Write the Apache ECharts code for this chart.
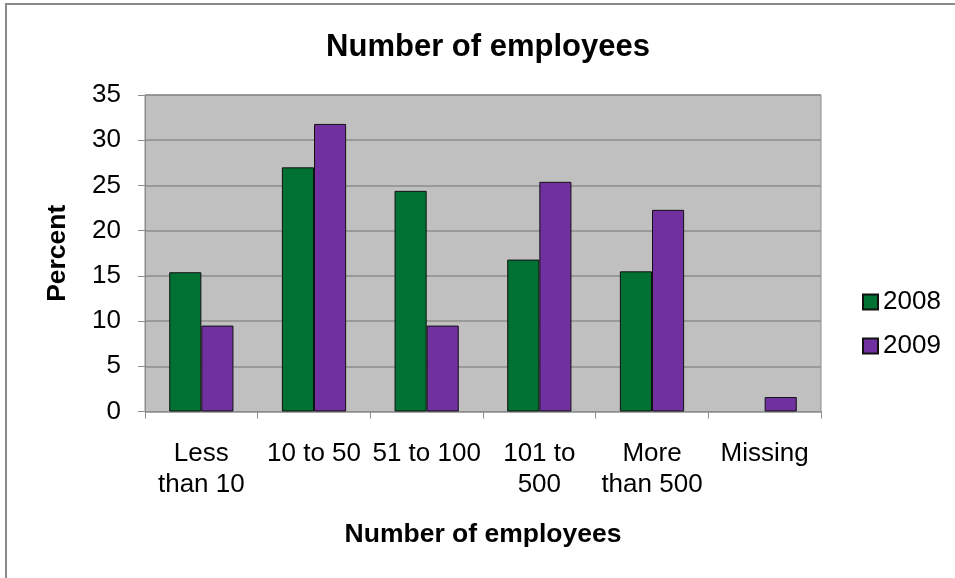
<!DOCTYPE html>
<html>
<head>
<meta charset="utf-8">
<style>
  html, body { margin: 0; padding: 0; background: #ffffff; }
  #chart { width: 955px; height: 578px; }
</style>
<script src="https://cdn.jsdelivr.net/npm/echarts@6/dist/echarts.min.js"></script>
</head>
<body>
<div id="chart"></div>
<script>
// Size classes (number of employees) and the share of firms in each, by year
const categories = ['Less\nthan 10', '10 to 50', '51 to 100', '101 to\n500', 'More\nthan 500', 'Missing'];
const values2008 = [15.4, 27.0, 24.4, 16.8, 15.5, null];
const values2009 = [9.5, 31.8, 9.5, 25.4, 22.3, 1.6];
const yTicks = { min: 0, max: 35, interval: 5 };

const FONT = '"Liberation Sans", Arial, sans-serif';
const chart = echarts.init(document.getElementById('chart'), null, { renderer: 'canvas' });

chart.setOption({
  backgroundColor: '#ffffff',
  animation: false,
  graphic: [{
    type: 'rect',
    shape: { x: 6, y: 4, width: 1000, height: 600 },
    style: { fill: 'none', stroke: '#8a8a8a', lineWidth: 2 },
    silent: true
  }],
  title: {
    text: 'Number of employees',
    left: 483,
    top: 27,
    textAlign: 'center',
    textStyle: { fontFamily: FONT, fontSize: 31, fontWeight: 'bold', color: '#000' }
  },
  legend: {
    orient: 'vertical',
    left: 862,
    top: 289,
    padding: 0,
    itemWidth: 15,
    itemHeight: 15,
    itemGap: 18,
    icon: 'rect',
    textStyle: { fontFamily: FONT, fontSize: 26, lineHeight: 26, color: '#000' },
    data: ['2008', '2009']
  },
  grid: {
    left: 145, right: 134, top: 95, bottom: 166.5,
    show: true,
    backgroundColor: '#c0c0c0',
    borderColor: '#8c8c8c',
    borderWidth: 1,
    containLabel: false
  },
  xAxis: {
    type: 'category',
    data: categories,
    name: 'Number of employees',
    nameLocation: 'middle',
    nameGap: 110,
    nameTextStyle: { fontFamily: FONT, fontSize: 26.5, fontWeight: 'bold', color: '#000', lineHeight: 27 },
    axisLine: { lineStyle: { color: '#8c8c8c', width: 1 } },
    axisTick: { show: true, length: 7, lineStyle: { color: '#8c8c8c' } },
    axisLabel: {
      interval: 0,
      margin: 27,
      fontFamily: FONT, fontSize: 26, lineHeight: 31, color: '#000', align: 'center'
    }
  },
  yAxis: {
    type: 'value',
    min: yTicks.min, max: yTicks.max, interval: yTicks.interval,
    name: 'Percent',
    nameLocation: 'middle',
    nameGap: 74,
    nameTextStyle: { fontFamily: FONT, fontSize: 26.5, fontWeight: 'bold', color: '#000' },
    axisLine: { show: true, lineStyle: { color: '#8c8c8c', width: 1 } },
    axisTick: { show: true, length: 7, lineStyle: { color: '#8c8c8c' } },
    axisLabel: { margin: 24, fontFamily: FONT, fontSize: 26, color: '#000' },
    splitLine: { show: true, lineStyle: { color: '#8c8c8c', width: 1.5 } }
  },
  series: [
    {
      name: '2008', type: 'bar', data: values2008,
      barGap: '0%', barCategoryGap: '43%',
      itemStyle: { color: '#007033', borderColor: '#111', borderWidth: 1 }
    },
    {
      name: '2009', type: 'bar', data: values2009,
      barGap: '0%', barCategoryGap: '43%',
      itemStyle: { color: '#7030a0', borderColor: '#111', borderWidth: 1 }
    }
  ]
});
</script>
</body>
</html>
